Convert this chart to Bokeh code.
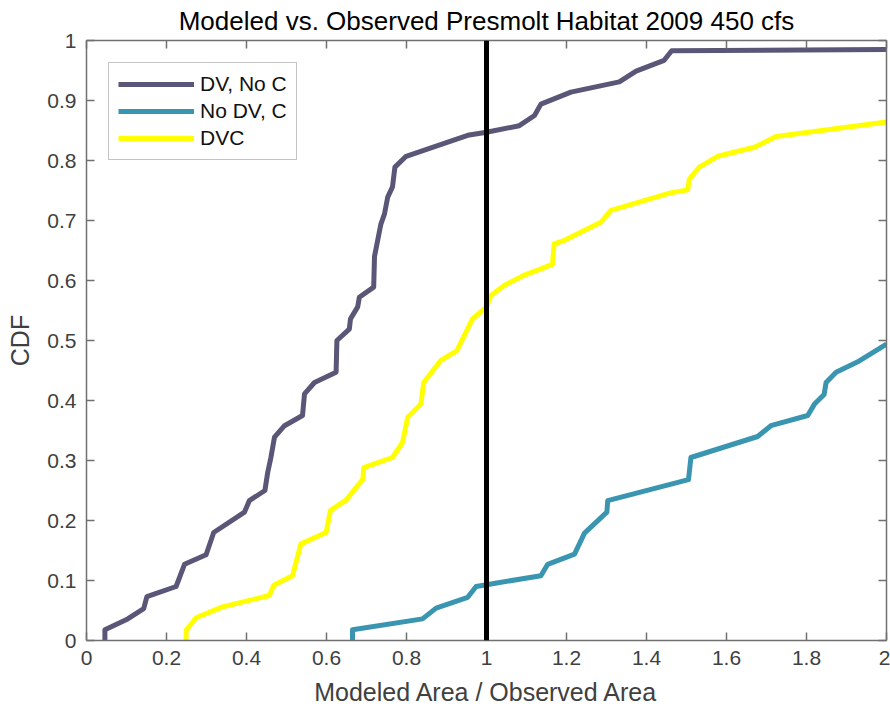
from bokeh.plotting import figure
from bokeh.models import Range1d, LinearAxis, FixedTicker, Span, CustomLabelingPolicy
from bokeh.embed import file_html
from bokeh.resources import INLINE

# --- data: empirical CDFs of modeled/observed habitat area ratio ---
dv_noc_x = [0.046, 0.046, 0.103, 0.143, 0.151, 0.224, 0.245, 0.299, 0.318, 0.395,
            0.407, 0.446, 0.453, 0.461, 0.470, 0.495, 0.540, 0.545, 0.570, 0.624,
            0.626, 0.657, 0.660, 0.678, 0.682, 0.718, 0.720, 0.736, 0.745, 0.753,
            0.765, 0.771, 0.799, 0.953, 1.000, 1.082, 1.120, 1.136, 1.211, 1.332,
            1.374, 1.444, 1.463, 2.000]
dv_noc_y = [0.000, 0.018, 0.036, 0.053, 0.073, 0.090, 0.127, 0.143, 0.180, 0.214,
            0.233, 0.250, 0.280, 0.305, 0.339, 0.358, 0.375, 0.411, 0.430, 0.447,
            0.500, 0.519, 0.536, 0.556, 0.572, 0.589, 0.640, 0.694, 0.711, 0.739,
            0.756, 0.789, 0.807, 0.842, 0.847, 0.858, 0.875, 0.894, 0.914, 0.931,
            0.949, 0.967, 0.983, 0.985]

nodv_c_x = [0.665, 0.665, 0.840, 0.874, 0.953, 0.974, 1.000, 1.136, 1.153, 1.220,
            1.245, 1.301, 1.303, 1.505, 1.511, 1.678, 1.711, 1.803, 1.820, 1.844,
            1.849, 1.874, 1.932, 2.000]
nodv_c_y = [0.000, 0.018, 0.036, 0.054, 0.072, 0.090, 0.093, 0.108, 0.127, 0.144,
            0.179, 0.214, 0.233, 0.268, 0.305, 0.340, 0.358, 0.375, 0.394, 0.410,
            0.430, 0.447, 0.466, 0.494]

dvc_x = [0.249, 0.249, 0.274, 0.340, 0.457, 0.468, 0.515, 0.536, 0.599, 0.610,
         0.649, 0.691, 0.693, 0.765, 0.790, 0.803, 0.836, 0.843, 0.886, 0.926,
         0.965, 1.000, 1.011, 1.045, 1.095, 1.165, 1.169, 1.195, 1.286, 1.311,
         1.460, 1.503, 1.507, 1.532, 1.578, 1.670, 1.724, 2.000]
dvc_y = [0.000, 0.017, 0.038, 0.056, 0.075, 0.092, 0.108, 0.161, 0.180, 0.217,
         0.234, 0.269, 0.288, 0.305, 0.330, 0.372, 0.394, 0.430, 0.467, 0.483,
         0.536, 0.556, 0.575, 0.592, 0.609, 0.627, 0.661, 0.667, 0.697, 0.717,
         0.746, 0.751, 0.769, 0.789, 0.807, 0.822, 0.840, 0.864]

series_names = ["DV, No C", "No DV, C", "DVC"]
series_colors = ["#5a5677", "#3a95b0", "#ffff00"]

x_ticks = [0.0, 0.2, 0.4, 0.6, 0.8, 1.0, 1.2, 1.4, 1.6, 1.8, 2.0]
x_tick_labels = ["0", "0.2", "0.4", "0.6", "0.8", "1", "1.2", "1.4", "1.6", "1.8", "2"]
y_ticks = [0.0, 0.1, 0.2, 0.3, 0.4, 0.5, 0.6, 0.7, 0.8, 0.9, 1.0]
y_tick_labels = ["0", "0.1", "0.2", "0.3", "0.4", "0.5", "0.6", "0.7", "0.8", "0.9", "1"]

reference_ratio = 1.0

FONT = "Liberation Sans"
AXIS_GRAY = "#707070"
TEXT_GRAY = "#404040"

p = figure(width=890, height=715, output_backend="svg", toolbar_location=None,
           x_range=Range1d(0, 2), y_range=Range1d(0, 1),
           min_border_left=86, min_border_right=4, min_border_top=40,
           min_border_bottom=75,
           title="Modeled vs. Observed Presmolt Habitat 2009 450 cfs")

p.background_fill_color = "white"
p.border_fill_color = "white"
p.outline_line_color = None
p.xgrid.visible = False
p.ygrid.visible = False

p.title.align = "center"
p.title.text_font = FONT
p.title.text_font_size = "26px"
p.title.text_font_style = "normal"
p.title.text_color = "black"
p.title.offset = 2
p.title.standoff = 2

xs = [dv_noc_x, nodv_c_x, dvc_x]
ys = [dv_noc_y, nodv_c_y, dvc_y]
for sx, sy, name, color in zip(xs, ys, series_names, series_colors):
    p.line(sx, sy, line_color=color, line_width=5, legend_label=name,
           line_join="round")

p.add_layout(Span(location=reference_ratio, dimension="height",
                  line_color="black", line_width=5))


def style_axis(ax, ticks, labels, show_labels=True):
    ax.ticker = FixedTicker(ticks=ticks)
    ax.minor_tick_line_color = None
    ax.major_tick_in = 8
    ax.major_tick_out = 0
    ax.major_tick_line_color = AXIS_GRAY
    ax.major_tick_line_width = 1.5
    ax.axis_line_color = AXIS_GRAY
    ax.axis_line_width = 1.5
    ax.major_label_text_font = FONT
    ax.major_label_text_color = TEXT_GRAY
    if show_labels:
        ax.major_label_overrides = {t: l for t, l in zip(ticks, labels)}
        ax.major_label_text_font_size = "21px"
        ax.major_label_standoff = 10
    else:
        # box edge: ticks only, no labels drawn
        ax.major_label_policy = CustomLabelingPolicy(code="if (false) { yield 0 }")
        ax.major_label_text_font_size = "1px"
        ax.major_label_standoff = 0


style_axis(p.xaxis[0], x_ticks, x_tick_labels)
style_axis(p.yaxis[0], y_ticks, y_tick_labels)
p.xaxis.axis_label = "Modeled Area / Observed Area"
p.yaxis.axis_label = "CDF"
for ax in (p.xaxis[0], p.yaxis[0]):
    ax.axis_label_text_font = FONT
    ax.axis_label_text_font_size = "25px"
    ax.axis_label_text_font_style = "normal"
    ax.axis_label_text_color = TEXT_GRAY
    ax.axis_label_standoff = 10

top_axis = LinearAxis()
style_axis(top_axis, x_ticks, x_tick_labels, show_labels=False)
p.add_layout(top_axis, "above")
right_axis = LinearAxis()
style_axis(right_axis, y_ticks, y_tick_labels, show_labels=False)
p.add_layout(right_axis, "right")

lg = p.legend[0]
lg.location = "top_left"
lg.margin = 22
lg.padding = 9
lg.spacing = 3
lg.glyph_width = 76
lg.glyph_height = 20
lg.label_height = 20
lg.label_standoff = 6
lg.label_text_font = FONT
lg.label_text_font_size = "21px"
lg.label_text_color = "#111111"
lg.border_line_color = "#8a8a8a"
lg.border_line_width = 1.5
lg.background_fill_color = "white"
lg.background_fill_alpha = 1.0

open("out.html", "w").write(file_html(p, INLINE))
